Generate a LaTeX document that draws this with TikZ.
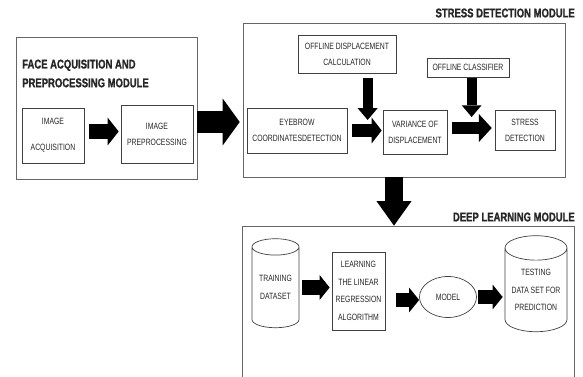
\documentclass[tikz,border=0pt]{standalone}
\usepackage{fontspec}
\setmainfont{Liberation Sans}[FakeStretch=0.75, BoldFeatures={FakeBold=1.2}]
\usetikzlibrary{shapes.geometric,arrows.meta,calc}

\tikzset{
  every node/.style={inner sep=0pt, text=black!85},
  module/.style={draw=black!60, line width=0.6pt},
  box/.style={draw=black!75, line width=0.6pt, align=center, font=\fontsize{7.8}{13.5}\selectfont},
  tallbox/.style={box, font=\fontsize{7.8}{15}\selectfont},
  ttl/.style={font=\bfseries\fontsize{10.8}{16}\selectfont, align=left},
  can/.style={tallbox, cylinder, shape border rotate=90, aspect=0.5},
  blk/.style n args={3}{line width=#1, -{Triangle[length=#2, width=#3, line width=0pt]}, black}
}

\begin{document}
\begin{tikzpicture}[x=0.03cm, y=-0.03cm]
\clip (0,0) rectangle (583,377);
% face acquisition module
\node[module, minimum width=5.43cm, minimum height=4.26cm] (facemod) at (106.5,108) {};
\node[ttl, anchor=west] (facettl) at (22,73.5) {FACE ACQUISITION AND\\PREPROCESSING MODULE};
\node[box, minimum width=1.86cm, minimum height=1.65cm] (acq) at (53,135.5) {IMAGE\\[8.5pt]ACQUISITION};
\node[box, minimum width=2.16cm, minimum height=1.74cm] (prep) at (157,134) {IMAGE\\PREPROCESSING};
\draw[blk={13.6pt}{9.4pt}{23.8pt}, shorten <=4.25pt, shorten >=1.7pt]
  ($(acq.east)+(0,-4)$) -- ($(acq.east -| prep.west)+(0,-4)$);

% stress detection module
\node[module, minimum width=9.66cm, minimum height=4.62cm] (stressmod) at (404,100) {};
\node[ttl, anchor=east] (stressttl) at (575,13) {STRESS DETECTION MODULE};
\draw[blk={19.5pt}{14.5pt}{40pt}, shorten >=2.5pt]
  ($(facemod.east)+(0,14)$) -- ($(facemod.east -| stressmod.west)+(0,14)$);
\node[box, minimum width=2.94cm, minimum height=1.14cm] (offdisp) at (347,54) {OFFLINE DISPLACEMENT\\CALCULATION};
\node[box, minimum width=2.46cm, minimum height=0.57cm] (offcls) at (468,67.5) {OFFLINE CLASSIFIER};
\node[box, minimum width=3.0cm, minimum height=1.35cm] (eyebrow) at (297,130.5) {EYEBROW\\COORDINATESDETECTION};
\node[box, minimum width=1.92cm, minimum height=1.32cm] (variance) at (415,132) {VARIANCE OF\\DISPLACEMENT};
\node[box, minimum width=1.80cm, minimum height=1.20cm] (stressdet) at (525,130) {STRESS\\DETECTION};
\coordinate (m1) at ($(eyebrow.east -| variance.west)+(-15,0)$);
\coordinate (m2) at ($(variance.east -| stressdet.west)+(-23,-4)$);
\draw[blk={11pt}{8.5pt}{22pt}, shorten <=4.25pt, shorten >=0.85pt]
  (eyebrow.east) -- (eyebrow.east -| variance.west);
\draw[blk={10.2pt}{11pt}{24pt}, shorten <=4.25pt, shorten >=2.5pt]
  ($(variance.east)+(0,-4)$) -- ($(variance.east -| stressdet.west)+(0,-4)$);
\draw[blk={8.5pt}{10pt}{17pt}, shorten <=4.25pt, shorten >=9pt] (offdisp.south -| m1) -- (m1);
\draw[blk={8.5pt}{10pt}{17pt}, shorten <=0.85pt, shorten >=9.4pt] (offcls.south -| m2) -- (m2);

% deep learning module
\node[module, minimum width=9.96cm, minimum height=5.22cm] (deepmod) at (408,313) {};
\node[ttl, anchor=east] (deepttl) at (575,217) {DEEP LEARNING MODULE};
\coordinate (dtop) at ($(stressmod.south)+(-10,0)$);
\draw[blk={15.3pt}{21pt}{30pt}] (dtop) -- (dtop |- deepmod.north);
\node[can, minimum width=1.41cm, minimum height=2.67cm] (train) at (275.5,287.5) {TRAINING\\DATASET};
\node[tallbox, minimum width=1.59cm, minimum height=2.34cm] (learn) at (358.5,291) {LEARNING\\THE LINEAR\\REGRESSION\\ALGORITHM};
\node[box, ellipse, minimum width=1.71cm, minimum height=1.23cm] (model) at (448,297) {MODEL};
\node[can, minimum width=1.86cm, minimum height=2.88cm] (test) at (536,290) {TESTING\\DATA SET FOR\\PREDICTION};
\draw[blk={12pt}{8.5pt}{21pt}, shorten <=2.5pt, shorten >=1.7pt] (train.east) -- (train.east -| learn.west);
\draw[blk={12pt}{8.5pt}{21pt}, shorten <=9.4pt] ($(learn.east)+(0,9)$) -- ($(learn.east -| model.west)+(0,9)$);
\draw[blk={12pt}{8.5pt}{21pt}, shorten <=0.85pt, shorten >=1.7pt] (model.east) -- (model.east -| test.west);
\end{tikzpicture}
\end{document}
